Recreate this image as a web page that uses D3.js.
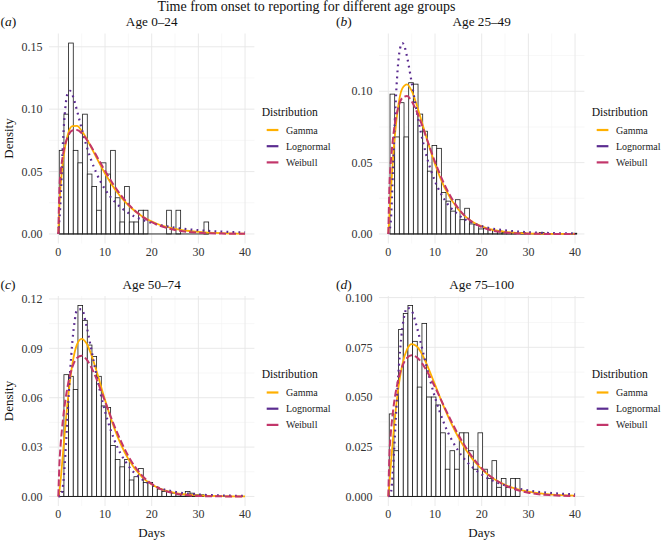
<!DOCTYPE html>
<html><head><meta charset="utf-8">
<script src="https://cdn.jsdelivr.net/npm/d3@7"></script>
<style>
body{margin:0;background:#fff}
svg{display:block}
text{font-family:"Liberation Serif","Times New Roman",serif;}
</style>
</head><body>
<svg id="chart" width="661" height="542" font-family="Liberation Serif, Times New Roman, serif"></svg>
<script>
// ---------------- data ----------------
const chartTitle = "Time from onset to reporting for different age groups";
const panelLetters = ["a", "b", "c", "d"];
const panelTitles = ["Age 0–24", "Age 25–49", "Age 50–74", "Age 75–100"];
const seriesNames = ["Gamma", "Lognormal", "Weibull"];
const xTicks = [0, 10, 20, 30, 40];

// histogram densities (bin width 1 day), first bin left edge per panel
const binStarts = [0.2, 0.36, 0.2, 0.2];
const histA = [0.067, 0.096, 0.153, 0.067, 0.057, 0.096, 0.048, 0.038, 0.019, 0.057, 0.048, 0.067, 0.029, 0.0096, 0.038, 0.0096, 0.0096, 0.019, 0.019, 0, 0, 0, 0, 0.019, 0, 0.019, 0, 0, 0, 0, 0, 0.0096];
const histB = [0.098, 0.068, 0.092, 0.068, 0.106, 0.105, 0.084, 0.072, 0.044, 0.062, 0.060, 0.029, 0.023, 0.016, 0.024, 0.010, 0.018, 0.007, 0.0065, 0.0035, 0.004, 0.003, 0.0025, 0.002, 0.001, 0.001, 0.001, 0, 0.001, 0, 0, 0, 0.001, 0, 0, 0, 0, 0, 0, 0.0005];
const histC = [0.003, 0.074, 0.073, 0.065, 0.116, 0.107, 0.092, 0.085, 0.073, 0.055, 0.054, 0.031, 0.0225, 0.018, 0.0225, 0.010, 0.012, 0.017, 0.0085, 0.0085, 0.006, 0.0045, 0.003, 0.003, 0.002, 0.001, 0.001, 0.003, 0.002, 0.001, 0.001];
const histD = [0.0415, 0.023, 0.084, 0.092, 0.096, 0.078, 0.055, 0.087, 0.050, 0.050, 0.046, 0.032, 0.0137, 0.023, 0.0137, 0.032, 0.032, 0.023, 0.0137, 0.032, 0.0137, 0.009, 0.018, 0.0046, 0.009, 0.0046, 0.009, 0.009];

// fitted curves
const gwX = [0, 0.25, 0.5, 1, 2, 3, 4, 5, 6, 7, 8, 10, 12, 15, 18, 21, 25, 30, 35, 40];
const lnX = [0, 0.5, 1, 1.5, 2, 2.5, 3, 3.5, 4, 5, 6, 7, 8, 10, 12, 15, 18, 21, 25, 30, 35, 40];

const gammaA = [0, 0.025, 0.0393, 0.0588, 0.0792, 0.0864, 0.0866, 0.0827, 0.0767, 0.0697, 0.0624, 0.0484, 0.0365, 0.0230, 0.0140, 0.0084, 0.0041, 0.0017, 0.00066, 0.00026];
const weibullA = [0, 0.0379, 0.0496, 0.0636, 0.0776, 0.0829, 0.0833, 0.0807, 0.0760, 0.0703, 0.0638, 0.0506, 0.0385, 0.0239, 0.0139, 0.0077, 0.0032, 0.0010, 0.0003, 0.0001];
const lognormA = [0, 0.0282, 0.0741, 0.1013, 0.1127, 0.1147, 0.1116, 0.1059, 0.0989, 0.0844, 0.0710, 0.0596, 0.0501, 0.0358, 0.0261, 0.0168, 0.0113, 0.0078, 0.0050, 0.0030, 0.0019, 0.0012];

const gammaB = [0, 0.0135, 0.0277, 0.0529, 0.0867, 0.1020, 0.1049, 0.1002, 0.0912, 0.0804, 0.0693, 0.0489, 0.0329, 0.0171, 0.0085, 0.0041, 0.0015, 0.0004, 0.0001, 0.00003];
const weibullB = [0, 0.0349, 0.0488, 0.0670, 0.0870, 0.0953, 0.0966, 0.0930, 0.0864, 0.0781, 0.0689, 0.0505, 0.0348, 0.0179, 0.0084, 0.0036, 0.0010, 0.0002, 0.00002, 0];
const lognormB = [0, 0.0077, 0.0458, 0.0873, 0.1156, 0.1299, 0.1338, 0.1311, 0.1243, 0.1061, 0.0873, 0.0707, 0.0569, 0.0369, 0.0243, 0.0134, 0.0077, 0.0046, 0.0025, 0.0012, 0.0006, 0.0003];

const gammaC = [0, 0.0036, 0.0102, 0.0263, 0.0578, 0.0803, 0.0924, 0.0958, 0.0932, 0.0866, 0.0779, 0.0587, 0.0414, 0.0227, 0.0116, 0.0057, 0.0021, 0.0006, 0.00015, 0.00004];
const weibullC = [0, 0.0210, 0.0316, 0.0470, 0.0670, 0.0786, 0.0842, 0.0855, 0.0834, 0.0788, 0.0726, 0.0578, 0.0429, 0.0245, 0.0125, 0.0058, 0.0018, 0.0003, 0.00005, 0];
const lognormC = [0, 0.0003, 0.0067, 0.0252, 0.0504, 0.0747, 0.0938, 0.1066, 0.1134, 0.1138, 0.1040, 0.0902, 0.0760, 0.0517, 0.0343, 0.0186, 0.0103, 0.0058, 0.0028, 0.0012, 0.0006, 0.0003];

const gammaD = [0, 0.0070, 0.0147, 0.0292, 0.0519, 0.0663, 0.0739, 0.0766, 0.0757, 0.0725, 0.0677, 0.0562, 0.0445, 0.0297, 0.0188, 0.0116, 0.0058, 0.0024, 0.0009, 0.0004];
const weibullD = [0, 0.0220, 0.0309, 0.0428, 0.0574, 0.0655, 0.0697, 0.0710, 0.0701, 0.0677, 0.0641, 0.0550, 0.0450, 0.0310, 0.0198, 0.0119, 0.0056, 0.0019, 0.0006, 0.0002];
const lognormD = [0, 0.0014, 0.0137, 0.0347, 0.0559, 0.0729, 0.0847, 0.0917, 0.0949, 0.0934, 0.0862, 0.0768, 0.0671, 0.0498, 0.0364, 0.0229, 0.0147, 0.0096, 0.0056, 0.0030, 0.0017, 0.0010];

const yTicksA = [0, 0.05, 0.10, 0.15];
const yTicksB = [0, 0.05, 0.10];
const yTicksC = [0, 0.03, 0.06, 0.09, 0.12];
const yTicksD = [0, 0.025, 0.05, 0.075, 0.10];

// ---------------- assembly ----------------
const hists = [histA, histB, histC, histD];
const gammas = [gammaA, gammaB, gammaC, gammaD];
const lognorms = [lognormA, lognormB, lognormC, lognormD];
const weibulls = [weibullA, weibullB, weibullC, weibullD];
const yTickSets = [yTicksA, yTicksB, yTicksC, yTicksD];
const yFormats = [".2f", ".2f", ".2f", ".3f"];

const colors = {Gamma: "#FFB000", Lognormal: "#5B2C90", Weibull: "#C2366A"};
const dashes = {Gamma: null, Lognormal: "1.8,4.2", Weibull: "7,3"};
const widths = {Gamma: 1.8, Lognormal: 2.2, Weibull: 2.0};
const FONT = "Liberation Serif, Times New Roman, serif";

const svg = d3.select("#chart");
const cols = [{x0: 49, x1: 254.4, lab: 0.5}, {x0: 379, x1: 584.4, lab: 336}];
const rows = [{y0: 33.5, y1: 243.5}, {y0: 296, y1: 506}];

svg.append("text").attr("x", 306.5).attr("y", 10.5).attr("text-anchor", "middle")
  .attr("font-family", FONT).attr("font-size", 14).attr("fill", "#111").text(chartTitle);

const gridMajor = "#e6e6e6", gridMinor = "#f2f2f2";

panelLetters.forEach((letter, i) => {
  const c = cols[i % 2], r = rows[Math.floor(i / 2)];
  const hist = hists[i];
  const yMax = d3.max([d3.max(hist), d3.max(gammas[i]), d3.max(lognorms[i]), d3.max(weibulls[i])]);
  const x = d3.scaleLinear().domain([-2, 42]).range([c.x0, c.x1]);
  const y = d3.scaleLinear().domain([-0.05 * yMax, 1.05 * yMax]).range([r.y1, r.y0]);
  const g = svg.append("g").attr("font-family", FONT);

  // minor grid
  const yt = yTickSets[i];
  const step = yt[1] - yt[0];
  const yMinor = [];
  for (let k = 0; k <= yt.length; k++) {
    const v = yt[0] + step * (k - 0.5);
    if (v > y.domain()[0] && v < y.domain()[1]) yMinor.push(v);
  }
  const xMinor = d3.pairs(xTicks).map(p => (p[0] + p[1]) / 2);
  g.selectAll(".ymin").data(yMinor).join("line")
    .attr("x1", c.x0).attr("x2", c.x1).attr("y1", d => y(d)).attr("y2", d => y(d))
    .attr("stroke", gridMinor).attr("stroke-width", 0.6);
  g.selectAll(".xmin").data(xMinor).join("line")
    .attr("y1", r.y0).attr("y2", r.y1).attr("x1", d => x(d)).attr("x2", d => x(d))
    .attr("stroke", gridMinor).attr("stroke-width", 0.6);
  g.selectAll(".ymaj").data(yt).join("line")
    .attr("x1", c.x0).attr("x2", c.x1).attr("y1", d => y(d)).attr("y2", d => y(d))
    .attr("stroke", gridMajor).attr("stroke-width", 0.9);
  g.selectAll(".xmaj").data(xTicks).join("line")
    .attr("y1", r.y0).attr("y2", r.y1).attr("x1", d => x(d)).attr("x2", d => x(d))
    .attr("stroke", gridMajor).attr("stroke-width", 0.9);

  // histogram
  const bins = hist.map((v, k) => ({x0: binStarts[i] + k, x1: binStarts[i] + k + 1, v}));
  g.selectAll(".bar").data(bins).join("rect")
    .attr("x", d => x(d.x0)).attr("width", d => x(d.x1) - x(d.x0))
    .attr("y", d => y(d.v)).attr("height", d => y(0) - y(d.v))
    .attr("fill", "#fff").attr("stroke", "#1a1a1a").attr("stroke-width", 0.8);
  g.append("line").attr("x1", x(bins[0].x0)).attr("x2", x(bins[bins.length - 1].x1))
    .attr("y1", y(0)).attr("y2", y(0)).attr("stroke", "#1a1a1a").attr("stroke-width", 0.9);

  // curves
  const line = d3.line().x(d => x(d[0])).y(d => y(d[1])).curve(d3.curveMonotoneX);
  const curveData = {
    Gamma: gwX.map((xv, k) => [xv, gammas[i][k]]),
    Lognormal: lnX.map((xv, k) => [xv, lognorms[i][k]]),
    Weibull: gwX.map((xv, k) => [xv, weibulls[i][k]])
  };
  seriesNames.forEach(name => {
    g.append("path").attr("d", line(curveData[name])).attr("fill", "none")
      .attr("stroke", colors[name]).attr("stroke-width", widths[name])
      .attr("stroke-dasharray", dashes[name]);
  });

  // tick labels
  const fmt = d3.format(yFormats[i]);
  g.selectAll(".ylab").data(yt).join("text")
    .attr("x", c.x0 - 6.5).attr("y", d => y(d)).attr("dy", "0.35em")
    .attr("text-anchor", "end").attr("font-size", 12).attr("fill", "#333").text(d => fmt(d));
  g.selectAll(".xlab").data(xTicks).join("text")
    .attr("x", d => x(d)).attr("y", r.y1 + 12).attr("text-anchor", "middle")
    .attr("font-size", 12).attr("fill", "#333").text(d => d);

  // panel title & letter
  g.append("text").attr("x", (c.x0 + c.x1) / 2).attr("y", r.y0 - 7.5).attr("text-anchor", "middle")
    .attr("font-size", 13.2).attr("fill", "#111").text(panelTitles[i]);
  const lt = g.append("text").attr("x", c.lab).attr("y", r.y0 - 7.5).attr("font-size", 13.5).attr("fill", "#111");
  lt.append("tspan").text("(");
  lt.append("tspan").attr("font-style", "italic").text(letter);
  lt.append("tspan").text(")");

  // axis titles
  if (i % 2 === 0) {
    const cy = (r.y0 + r.y1) / 2;
    g.append("text").attr("transform", `translate(13,${cy}) rotate(-90)`).attr("text-anchor", "middle")
      .attr("font-size", 13).attr("fill", "#111").text("Density");
  }
  if (i >= 2) {
    g.append("text").attr("x", (c.x0 + c.x1) / 2).attr("y", 537).attr("text-anchor", "middle")
      .attr("font-size", 13).attr("fill", "#111").text("Days");
  }

  // legend
  const cy = (r.y0 + r.y1) / 2;
  const lg = g.append("g");
  lg.append("text").attr("x", c.x1 + 7.3).attr("y", cy - 23).attr("font-size", 11.6)
    .attr("fill", "#111").text("Distribution");
  seriesNames.forEach((name, k) => {
    const ly = cy - 8.5 + k * 16.2;
    lg.append("line").attr("x1", c.x1 + 12.3).attr("x2", c.x1 + 24).attr("y1", ly).attr("y2", ly)
      .attr("stroke", colors[name]).attr("stroke-width", 2.2);
    lg.append("text").attr("x", c.x1 + 31.6).attr("y", ly).attr("dy", "0.35em")
      .attr("font-size", 10).attr("fill", "#222").text(name);
  });
});
</script>
</body></html>
